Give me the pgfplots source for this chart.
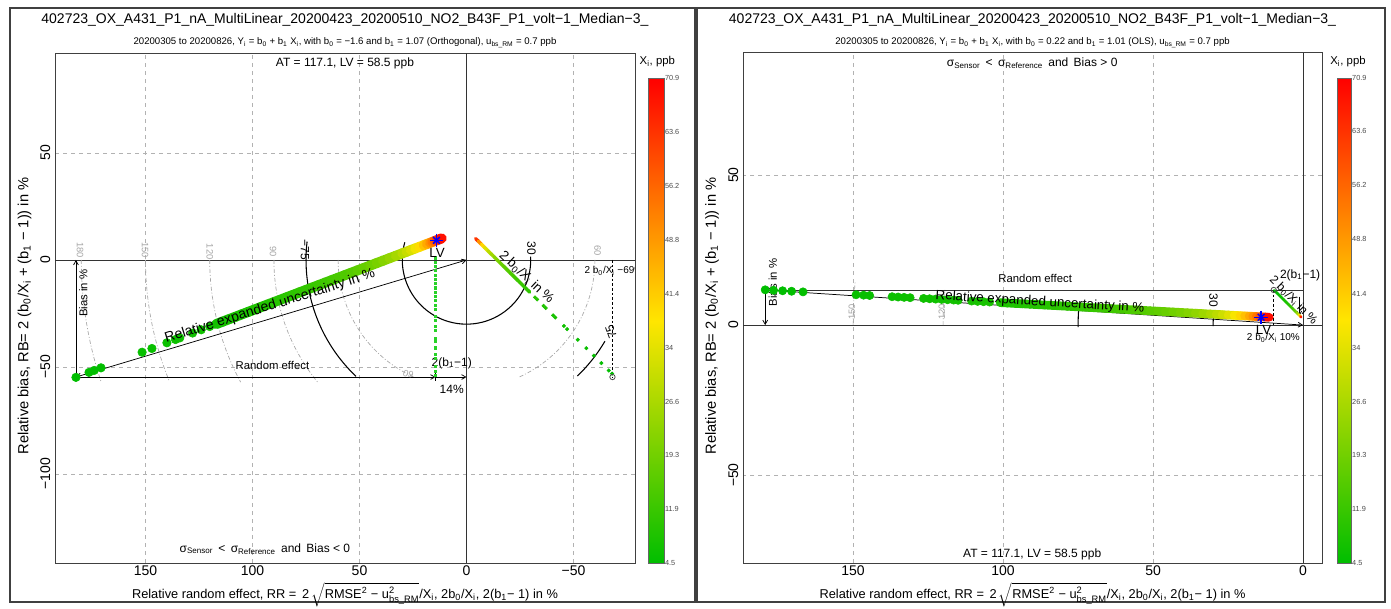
\documentclass[border=0pt]{standalone}
\usepackage{pgfplots}
\pgfplotsset{compat=1.18}
\usepackage{pgfplotstable}
\usepackage{fontspec}
\setmainfont{Liberation Sans}
\usetikzlibrary{arrows.meta}
\newcommand\fs[1]{\fontsize{#1}{#1}\selectfont}
\newcommand\sub[1]{\textsubscript{#1}}
\definecolor{lg}{RGB}{40,210,40}

% left panel: sparse points at low X_i
\pgfplotstableread{
x y c
182.5 -54.85 4.50
176.4 -52.53 4.66
174.0 -51.62 4.72
170.8 -50.40 4.81
151.6 -43.11 5.42
147.0 -41.36 5.59
140.0 -38.70 5.87
136.0 -37.18 6.04
134.0 -36.42 6.13
128.0 -34.14 6.42
124.0 -32.62 6.63
120.0 -31.10 6.85
}\LbandSparse

% left panel: dense points
\pgfplotstableread{
x y c
117.0 -29.96 7.03
114.0 -28.82 7.21
111.0 -27.68 7.41
108.0 -26.54 7.61
105.0 -25.40 7.83
102.0 -24.26 8.06
99.0 -23.12 8.30
96.0 -21.98 8.56
93.0 -20.84 8.84
90.0 -19.70 9.13
87.0 -18.56 9.45
84.0 -17.42 9.79
81.0 -16.28 10.15
78.0 -15.14 10.54
75.0 -14.00 10.96
72.0 -12.86 11.42
69.0 -11.72 11.91
66.0 -10.58 12.45
63.0 -9.44 13.05
60.0 -8.30 13.70
57.0 -7.16 14.42
54.0 -6.02 15.22
51.0 -4.88 16.12
48.0 -3.74 17.13
45.0 -2.60 18.27
42.0 -1.46 19.57
39.0 -0.32 21.08
36.0 0.82 22.83
33.0 1.96 24.91
30.0 3.10 27.40
28.0 3.86 29.36
26.0 4.62 31.62
24.0 5.38 34.25
22.0 6.14 37.36
20.0 6.90 41.10
18.5 7.47 44.43
17.0 8.04 48.35
16.0 8.42 51.38
15.0 8.80 54.80
14.0 9.18 58.71
13.2 9.48 62.27
12.4 9.79 66.29
11.6 10.09 70.86
}\LbandDense

\pgfplotstableread{
x y c
-4.3 9.94 70.9
-5.5 8.76 55.8
-7.0 7.27 43.9
-8.5 5.79 36.1
-10.0 4.30 30.7
-11.5 2.82 26.7
-13.0 1.33 23.6
-14.5 -0.16 21.2
-16.0 -1.64 19.2
-17.5 -3.13 17.5
-19.0 -4.61 16.2
-20.5 -6.10 15.0
-22.0 -7.58 14.0
-23.5 -9.07 13.1
-25.0 -10.55 12.3
-26.5 -12.04 11.6
-28.0 -13.52 11.0
-29.5 -15.01 10.4
}\LdiagDense

\pgfplotstableread{
x y c
-32.0 -17.48 9.6
-33.0 -18.47 9.3
-36.0 -21.44 8.5
-37.0 -22.43 8.3
-40.5 -25.90 7.6
-41.5 -26.89 7.4
-45.5 -30.85 6.7
-47.0 -32.33 6.5
-52.0 -37.28 5.9
-56.0 -41.24 5.5
-59.5 -44.71 5.2
-63.0 -48.17 4.9
-66.5 -51.64 4.6
-68.0 -53.12 4.5
}\LdiagSparse

\pgfplotstableread{
x y
14.5 1
14.5 -1
14.5 -3
14.5 -5
14.5 -7
14.5 -9
14.5 -11
14.5 -13
14.5 -15
14.5 -17
14.5 -19
14.5 -21
14.5 -23
14.5 -26.5
14.5 -28
14.5 -31
14.5 -33
14.5 -36.5
14.5 -38
14.5 -41
14.5 -44
14.5 -46
14.5 -49.5
14.5 -52
14.5 -54
}\Lvert

% right panel: sparse points
\pgfplotstableread{
x y c
179.3 11.75 4.51
176.5 11.60 4.58
173.5 11.44 4.66
170.5 11.28 4.74
166.7 11.07 4.85
149.0 10.11 5.43
146.5 9.97 5.52
144.5 9.86 5.60
137.0 9.45 5.91
135.0 9.34 5.99
133.0 9.24 6.08
131.0 9.13 6.18
126.5 8.88 6.40
124.5 8.77 6.50
122.5 8.66 6.60
120.5 8.56 6.71
118.5 8.45 6.83
116.5 8.34 6.94
115.0 8.26 7.03
110.5 8.01 7.32
108.5 7.90 7.46
106.5 7.79 7.60
104.5 7.68 7.74
}\RbandSparse

% right panel: dense points
\pgfplotstableread{
x y c
101.0 7.49 8.01
98.5 7.36 8.21
96.0 7.22 8.43
93.5 7.09 8.65
91.0 6.95 8.89
88.5 6.81 9.14
86.0 6.68 9.41
83.5 6.54 9.69
81.0 6.41 9.99
78.5 6.27 10.31
76.0 6.13 10.64
73.5 6.00 11.01
71.0 5.86 11.39
68.5 5.73 11.81
66.0 5.59 12.26
63.5 5.45 12.74
61.0 5.32 13.26
58.5 5.18 13.83
56.0 5.05 14.45
53.5 4.91 15.12
51.0 4.77 15.86
48.5 4.64 16.68
46.0 4.50 17.59
43.5 4.37 18.60
41.0 4.23 19.73
38.5 4.09 21.01
36.0 3.96 22.47
33.5 3.82 24.15
31.0 3.69 26.10
29.0 3.58 27.90
27.0 3.47 29.96
25.0 3.36 32.36
23.0 3.25 35.17
21.0 3.14 38.52
19.5 3.06 41.49
18.0 2.98 44.94
16.8 2.91 48.15
15.6 2.85 51.86
14.5 2.79 55.79
13.5 2.73 59.93
12.7 2.69 63.70
12.0 2.65 67.42
11.3 2.61 70.90
}\RbandDense

\pgfplotstableread{
x y c
9.6 11.6 4.6
9.0 11.0 4.9
8.4 10.4 5.2
7.8 9.8 5.6
7.2 9.2 6.1
6.6 8.6 6.7
6.0 8.0 7.3
5.4 7.4 8.1
4.8 6.8 9.2
4.2 6.2 10.5
3.6 5.6 12.2
3.0 5.0 14.7
2.5 4.5 17.6
2.0 4.0 22.0
1.6 3.6 27.5
1.3 3.3 33.8
1.05 3.05 41.9
0.9 2.9 48.9
0.78 2.78 56.4
0.7 2.7 62.9
0.62 2.62 70.9
}\Rdiag

\pgfplotsset{
  gyr/.style={colormap={gyr}{rgb255=(0,190,0) rgb255=(255,230,0) rgb255=(255,0,0)}},
  panel/.style={
    anchor=south west, x dir=reverse,
    axis line style={black!75, line width=0.5pt},
    major tick length=0pt,
    xtick pos=bottom, ytick pos=left,
    tick label style={font=\fs{10.5}},
    yticklabel style={rotate=90, anchor=south},
    xticklabel style={anchor=north, yshift=1.5pt},
    grid=major,
    major grid style={black!30, dash pattern=on 3pt off 3pt, line width=0.4pt},
    gyr, point meta min=4.5, point meta max=70.9,
    colorbar,
  },
  cbar/.style={
    at={(parent axis.north east)}, anchor=north west,
    yshift=-19pt, height=363.75pt,
    ytick={4.5,11.9,19.3,26.6,34,41.4,48.8,56.2,63.6,70.9},
    yticklabels={4.5,11.9,19.3,26.6,34,41.4,48.8,56.2,63.6,70.9},
    yticklabel style={font=\fs{5.5}, text=black!70, xshift=-3pt},
    major tick length=0pt,
    axis line style={black!60, line width=0.3pt},
  },
  band/.style={scatter, only marks, mark=*, scatter src=explicit,
    scatter/use mapped color={draw=mapped color, fill=mapped color}},
  ribbon/.style={mesh, point meta=explicit, line cap=round},
}
\tikzset{
  garc/.style={black!35, dash pattern=on 3pt off 1.5pt on 0.7pt off 1.5pt, line width=0.5pt},
  barc/.style={black, line width=0.8pt},
  arr/.style={black, line width=0.55pt},
  tip/.tip={Straight Barb[length=3.2pt,width=3.6pt]},
}

\begin{document}
\begin{tikzpicture}
\path[use as bounding box] (0,0) rectangle (1043.25pt,456.75pt);
\fill[white] (0,0) rectangle (1043.25pt,456.75pt);
\draw[black!75, line width=1.4pt] (7.5pt,5.25pt) rectangle (521.25pt,450.75pt);
\draw[black!75, line width=1.4pt] (522.75pt,5.25pt) rectangle (1038.75pt,450.75pt);

% ---------------- left panel
\begin{axis}[panel,
  at={(41.25pt,34.5pt)},
  x=1.605pt, y=1.605pt,
  xmin=-78.7, xmax=192.3, ymin=-141.6, ymax=96.7,
  xtick={-50,0,50,100,150}, xticklabels={−50,0,50,100,150},
  ytick={-100,-50,0,50}, yticklabels={−100,−50,0,50},
  colorbar style={cbar, xshift=1.5pt, width=12pt},
]
\draw[black!80, line width=0.5pt] (axis cs:0,-141.6) -- (axis cs:0,96.7);
\draw[black!80, line width=0.5pt] (axis cs:-78.7,0) -- (axis cs:192.3,0);
% guide arcs
\draw[garc] (axis cs:0,0) ++(180:288.9pt) arc[start angle=180, end angle=198.5, radius=288.9pt];
\draw[garc] (axis cs:0,0) ++(180:240.75pt) arc[start angle=180, end angle=202.3, radius=240.75pt];
\draw[garc] (axis cs:0,0) ++(180:192.6pt) arc[start angle=180, end angle=208.4, radius=192.6pt];
\draw[garc] (axis cs:0,0) ++(180:144.45pt) arc[start angle=180, end angle=219.3, radius=144.45pt];
\draw[garc] (axis cs:0,0) ++(180:96.3pt) arc[start angle=180, end angle=246.4, radius=96.3pt];
\draw[garc] (axis cs:0,0) ++(0:96.3pt) arc[start angle=0, end angle=-66.4, radius=96.3pt];
\draw[barc] (axis cs:0,0) ++(173.4:120.375pt) arc[start angle=173.4, end angle=226.5, radius=120.375pt];
\draw[barc] (axis cs:0,0) ++(164:48.15pt) arc[start angle=164, end angle=363, radius=48.15pt];
\draw[barc] (axis cs:0,0) ++(313.7:120.375pt) arc[start angle=313.7, end angle=329.6, radius=120.375pt];
% arrows
\draw[arr, tip-tip] (axis cs:0,0) -- (axis cs:182.5,-54.7);
\draw[arr, -tip] (axis cs:182.5,-54.7) -- (axis cs:182.5,0);
\draw[arr, -tip] (axis cs:182.5,-54.7) -- (axis cs:14.5,-54.7);
\draw[arr, -tip] (axis cs:14.5,-54.7) -- (axis cs:0,-54.7);
\draw[arr] (axis cs:14.5,-53) -- (axis cs:14.5,-56.4);
\draw[black, line width=0.5pt, dash pattern=on 2pt off 1.5pt] (axis cs:-68.2,0) -- (axis cs:-68.2,-54.7);
% data
\addplot[only marks, mark=square*, mark size=0.8pt, color=lg] table[x=x,y=y] {\Lvert};
\addplot[ribbon, line width=2.6pt] table[x=x,y=y,meta=c] {\LdiagDense};
\addplot[band, mark size=1.3pt] table[x=x,y=y,meta=c] {\LdiagSparse};
\addplot[ribbon, line width=7.5pt] table[x=x,y=y,meta=c] {\LbandDense};
\addplot[band, mark size=3.2pt] table[x=x,y=y,meta=c] {\LbandSparse};
\addplot[only marks, mark=o, mark size=2pt, black!70, line width=0.6pt] coordinates {(-68.2,-54.7)};
\addplot[only marks, mark=+, mark size=5pt, blue, line width=1.1pt] coordinates {(14.05,9.2)};
\addplot[only marks, mark=x, mark size=3.6pt, blue, line width=1.1pt] coordinates {(14.05,9.2)};
% labels
\node[font=\fs{9}] at (axis cs:56.8,92) {AT = 117.1, LV = 58.5 ppb};
\node[font=\fs{9}] at (axis cs:94.2,-135) {σ\sub{Sensor} \,<\, σ\sub{Reference} \,and\, Bias < 0};
\node[font=\fs{8.5}] at (axis cs:90.7,-49.1) {Random effect};
\node[font=\fs{9}] at (axis cs:6.9,-48.3) {2(b\sub{1}−1)};
\node[font=\fs{9}] at (axis cs:6.9,-60.7) {14\%};
\node[font=\fs{8.5}, rotate=90] at (axis cs:179.1,-15.6) {Bias in \%};
\node[font=\fs{9}, rotate=-90] at (axis cs:75.5,4.7) {−75};
\node[font=\fs{9}, rotate=-90] at (axis cs:-30.4,5.3) {30};
\node[font=\fs{9}, rotate=110] at (axis cs:-67.5,-33.4) {75};
\node[font=\fs{7}, text=black!35, rotate=-90] at (axis cs:180.6,4.7) {180};
\node[font=\fs{7}, text=black!35, rotate=-90] at (axis cs:150.2,4.7) {150};
\node[font=\fs{7}, text=black!35, rotate=-90] at (axis cs:119.9,3.9) {120};
\node[font=\fs{7}, text=black!35, rotate=-90] at (axis cs:90.4,3.9) {90};
\node[font=\fs{7}, text=black!35, rotate=-90] at (axis cs:-61.2,4.5) {60};
\node[font=\fs{7}, text=black!35, rotate=160] at (axis cs:27.2,-53.3) {60};
\node[font=\fs{7.5}] at (axis cs:-68.9,-5) {2 b\sub{0}/X\sub{i} −69\%};
\coordinate (Lrel) at (axis cs:91.8,-21.8);
\coordinate (Llv) at (axis cs:13.8,3.3);
\coordinate (Ldg) at (axis cs:-28,-8.1);
\end{axis}
\node[font=\fs{10.5}, rotate=17.4] at (Lrel) {Relative expanded uncertainty in \%};
\node[font=\fs{10}] at (Llv) {LV};
\node[font=\fs{10}, rotate=-43] at (Ldg) {2 b\sub{0}/X\sub{i} in \%};

% ---------------- right panel
\begin{axis}[panel,
  at={(557.25pt,34.5pt)},
  x=2.25pt, y=2.25pt,
  xmin=-6.33, xmax=186.7, ymin=-79.3, ymax=90.8,
  xtick={0,50,100,150}, xticklabels={0,50,100,150},
  ytick={-50,0,50}, yticklabels={−50,0,50},
  colorbar style={cbar, xshift=3pt, width=10.5pt},
]
\draw[black!80, line width=0.5pt] (axis cs:0,-79.3) -- (axis cs:0,90.8);
\draw[black!80, line width=0.5pt] (axis cs:-6.33,0) -- (axis cs:186.7,0);
\draw[garc] (axis cs:0,0) ++(180:337.5pt) arc[start angle=180, end angle=174.5, radius=337.5pt];
\draw[garc] (axis cs:0,0) ++(180:270pt) arc[start angle=180, end angle=174.3, radius=270pt];
\draw[barc] (axis cs:0,0) ++(180.6:67.5pt) arc[start angle=180.6, end angle=170.4, radius=67.5pt];
\draw[barc] (axis cs:0,0) ++(180.5:168.75pt) arc[start angle=180.5, end angle=175.5, radius=168.75pt];
\draw[arr, tip-tip] (axis cs:0,0) -- (axis cs:179.3,11.7);
\draw[arr, -tip] (axis cs:179.3,11.7) -- (axis cs:179.3,0);
\draw[black!80, line width=0.5pt] (axis cs:179.3,11.7) -- (axis cs:0,11.7);
\draw[black, line width=0.5pt, dash pattern=on 2pt off 1.5pt] (axis cs:9.8,11.7) -- (axis cs:9.8,0);
\draw[arr, -tip] (axis cs:1.3,9.5) -- (axis cs:1.3,3);
\addplot[ribbon, line width=2pt] table[x=x,y=y,meta=c] {\Rdiag};
\addplot[ribbon, line width=6.5pt] table[x=x,y=y,meta=c] {\RbandDense};
\addplot[band, mark size=3.1pt] table[x=x,y=y,meta=c] {\RbandSparse};
\addplot[only marks, mark=o, mark size=2pt, black!70, line width=0.6pt] coordinates {(9.8,11.7)};
\addplot[only marks, mark=+, mark size=5pt, blue, line width=1.1pt] coordinates {(14.0,2.6)};
\addplot[only marks, mark=x, mark size=3.6pt, blue, line width=1.1pt] coordinates {(14.0,2.6)};
\node[font=\fs{9}] at (axis cs:90.3,87.3) {σ\sub{Sensor} \,<\, σ\sub{Reference} \,and\, Bias > 0};
\node[font=\fs{9}] at (axis cs:90.3,-76.5) {AT = 117.1, LV = 58.5 ppb};
\node[font=\fs{8.5}] at (axis cs:89.3,15.7) {Random effect};
\node[font=\fs{8.5}, rotate=90] at (axis cs:176.8,14.2) {Bias in \%};
\node[font=\fs{7}, text=black!35, rotate=90] at (axis cs:150.4,4.4) {150};
\node[font=\fs{7}, text=black!35, rotate=90] at (axis cs:120.4,4.4) {120};
\node[font=\fs{9}, rotate=-90] at (axis cs:29.9,8.3) {30};
\coordinate (Rrel) at (axis cs:87.7,7.6);
\coordinate (Rlv) at (axis cs:13.2,-1.7);
\coordinate (Rpc) at (axis cs:9.9,-4.2);
\coordinate (Rb1) at (axis cs:1,16.7);
\coordinate (Rdg) at (axis cs:3.2,8.3);
\end{axis}
\node[font=\fs{10}, rotate=-3.5] at (Rrel) {Relative expanded uncertainty in \%};
\node[font=\fs{10}] at (Rlv) {LV};
\node[font=\fs{7.5}] at (Rpc) {2 b\sub{0}/X\sub{i} 10\%};
\node[font=\fs{9}] at (Rb1) {2(b\sub{1}−1)};
\node[font=\fs{9}, rotate=-45] at (Rdg) {2 b\sub{0}/X\sub{i} in \%};

% ---------------- texts outside
\node[font=\fs{10.5}] at (258.75pt,441.75pt) {402723\_OX\_A431\_P1\_nA\_MultiLinear\_20200423\_20200510\_NO2\_B43F\_P1\_volt−1\_Median−3\_};
\node[font=\fs{10.5}] at (774.4pt,441.75pt) {402723\_OX\_A431\_P1\_nA\_MultiLinear\_20200423\_20200510\_NO2\_B43F\_P1\_volt−1\_Median−3\_};
\node[font=\fs{7.2}] at (258.75pt,424.5pt) {20200305 to 20200826, Y\sub{i} = b\sub{0} + b\sub{1} X\sub{i}, with b\sub{0} = −1.6 and b\sub{1} = 1.07 (Orthogonal), u\sub{bs\_RM} = 0.7 ppb};
\node[font=\fs{7.2}] at (774.4pt,424.5pt) {20200305 to 20200826, Y\sub{i} = b\sub{0} + b\sub{1} X\sub{i}, with b\sub{0} = 0.22 and b\sub{1} = 1.01 (OLS), u\sub{bs\_RM} = 0.7 ppb};
\node[font=\fs{8.5}] at (493pt,410.25pt) {X\sub{i}, ppb};
\node[font=\fs{8.5}] at (1011pt,410.25pt) {X\sub{i}, ppb};
\node[font=\fs{9.6}] at (258.75pt,10.5pt) {Relative random effect, RR = \,2\,$\sqrt{\mbox{RMSE\textsuperscript{2} − u$^{\mbox{\scriptsize 2}}_{\mbox{\scriptsize bs\_RM}}$}}$/X\sub{i}, 2b\sub{0}/X\sub{i}, 2(b\sub{1}− 1) in \%};
\node[font=\fs{9.6}] at (774.4pt,10.5pt) {Relative random effect, RR = \,2\,$\sqrt{\mbox{RMSE\textsuperscript{2} − u$^{\mbox{\scriptsize 2}}_{\mbox{\scriptsize bs\_RM}}$}}$/X\sub{i}, 2b\sub{0}/X\sub{i}, 2(b\sub{1}− 1) in \%};
\node[font=\fs{11}, rotate=90] at (18.5pt,219.75pt) {Relative bias, RB= 2 (b\sub{0}/X\sub{i} + (b\sub{1} − 1)) in \%};
\node[font=\fs{11}, rotate=90] at (534pt,219.75pt) {Relative bias, RB= 2 (b\sub{0}/X\sub{i} + (b\sub{1} − 1)) in \%};
\end{tikzpicture}
\end{document}
